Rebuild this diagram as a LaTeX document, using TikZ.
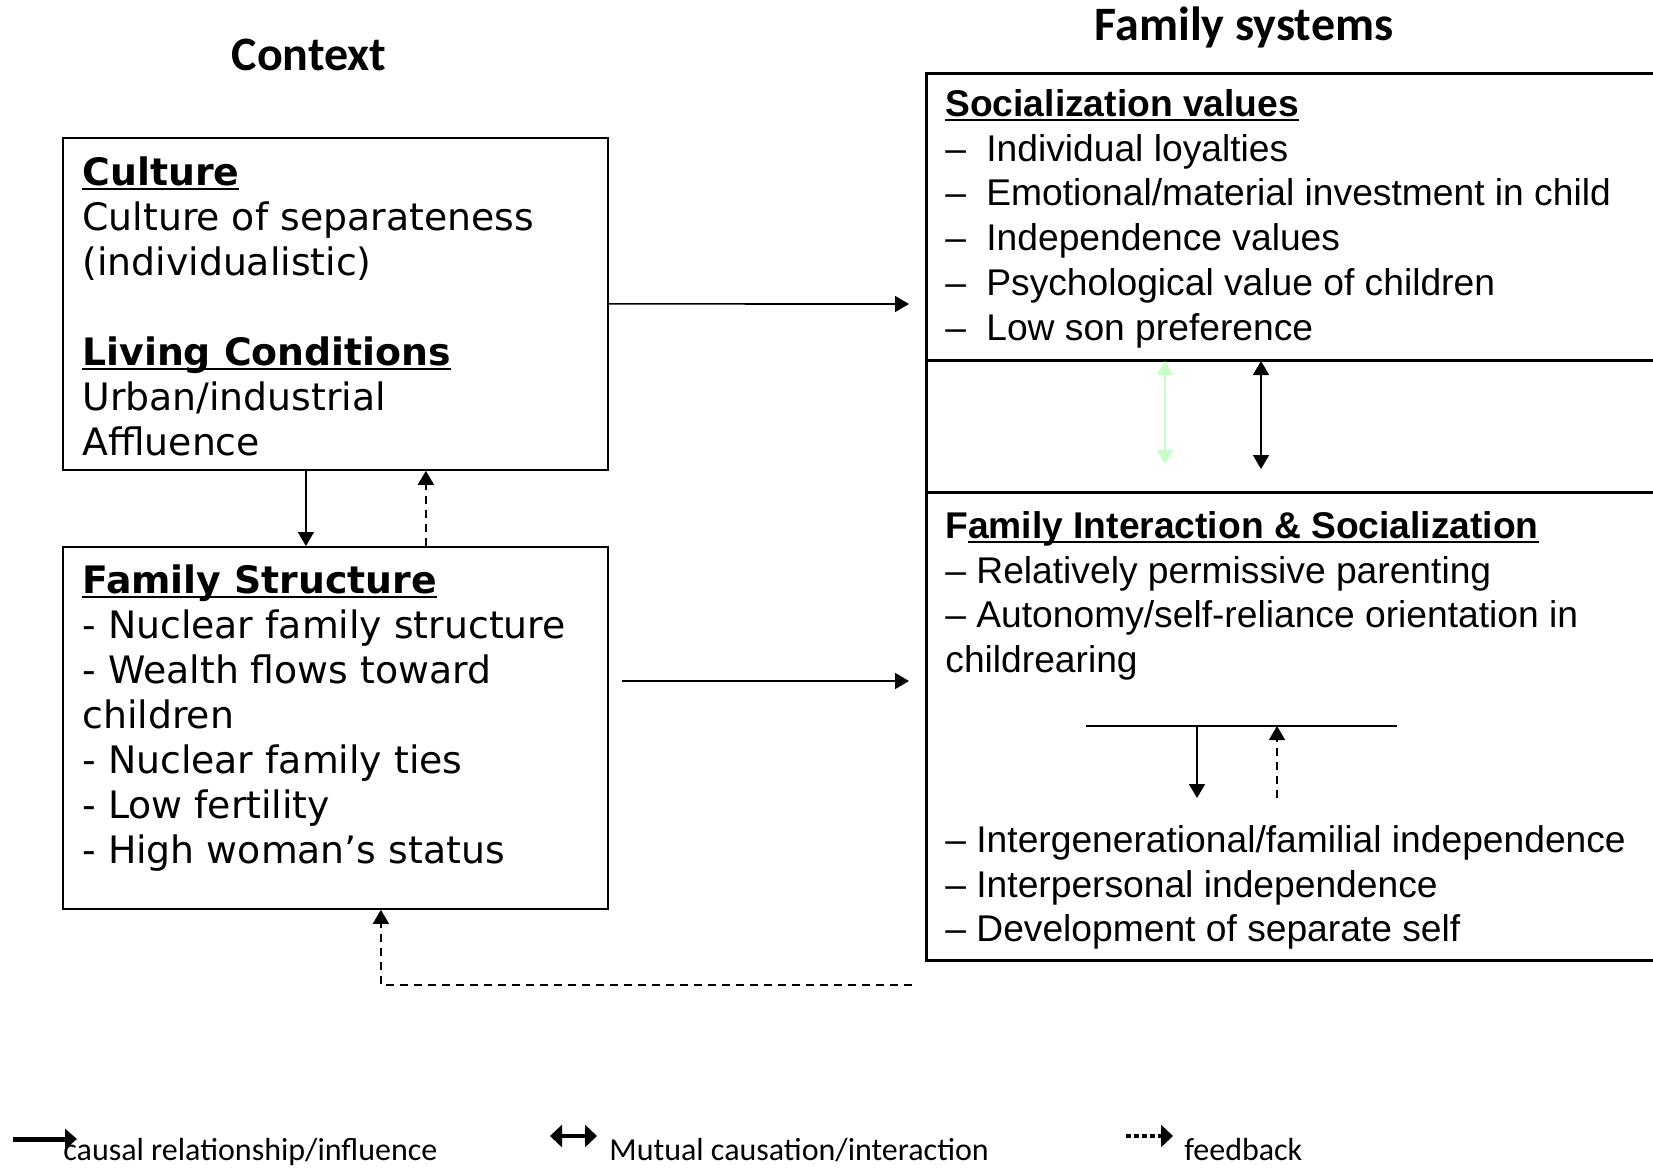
\documentclass[tikz,border=0pt]{standalone}
\usepackage{fontspec}
\newfontfamily\ctxfont{DejaVu Sans}
\newfontfamily\sysfont{Liberation Sans}
\newfontfamily\capfont{Carlito}
\usetikzlibrary{arrows.meta}
\definecolor{paleg}{RGB}{200,255,200}
\newlength\ulwd
\newcommand\ulhead[1]{\settowidth\ulwd{#1}\rlap{\rule[-2.5pt]{\ulwd}{1.3pt}}{#1}}
\newcommand\itm{\makebox[20.5pt][l]{–}}
\tikzstyle{ctxbox}=[draw,line width=0.9pt,minimum width=272.5pt,anchor=north west,inner sep=0]
\tikzstyle{sysbox}=[draw,line width=1.6pt,minimum width=387.5pt,anchor=north west,inner sep=0]
\tikzstyle{ctxtext}=[anchor=north west,inner sep=0,align=left,font=\ctxfont\fontsize{18.9}{22.5}\selectfont]
\tikzstyle{systext}=[anchor=north west,inner sep=0,align=left,font=\sysfont\fontsize{18.6}{22.4}\selectfont]
\tikzstyle{title}=[inner sep=0,font=\capfont\bfseries\fontsize{24}{28}\selectfont]
\tikzstyle{legtext}=[anchor=base west,inner sep=0,font=\capfont\fontsize{16}{19}\selectfont]
\tikzstyle{link}=[-{Triangle[width=8pt,length=7pt]},line width=0.8pt]
\tikzstyle{mutual}=[{Triangle[width=8pt,length=7pt]}-{Triangle[width=8pt,length=7pt]},line width=0.8pt]
\tikzstyle{feed}=[link,dash pattern=on 4pt off 3pt]

\begin{document}
\begin{tikzpicture}[x=0.5pt,y=-0.5pt]
  \useasboundingbox (0,0) rectangle (1653,1167);
  \fill[white] (0,0) rectangle (1653,1167);

  % titles
  \node[title] (ctxtitle) at (309,55) {Context};
  \node[title] (systitle) at (1244,27) {Family systems};

  % context boxes
  \node[ctxbox,minimum height=166pt] (culture) at (62,137) {};
  \node[ctxtext] (culturetxt) at (82,156) {\ulhead{\bfseries Culture}\\
    Culture of separateness\\
    (individualistic)\\
    ~\\
    \ulhead{\bfseries Living Conditions}\\
    Urban/industrial\\
    Affluence};
  \node[ctxbox,minimum height=181pt] (structure) at (62,546) {};
  \node[ctxtext] (structuretxt) at (82,564) {\ulhead{\bfseries Family Structure}\\
    - Nuclear family structure\\
    - Wealth flows toward\\
    children\\
    - Nuclear family ties\\
    - Low fertility\\
    - High woman’s status};

  % family systems boxes
  \node[sysbox,minimum height=143.5pt] (values) at (925,72) {};
  \node[sysbox,minimum height=66pt] (between) at (925,359) {};
  \node[sysbox,minimum height=234pt] (interaction) at (925,491) {};
  \node[systext] (valuestxt) at (945,89) {\ulhead{\bfseries Socialization values}\\
    \itm Individual loyalties\\
    \itm Emotional/material investment in child\\
    \itm Independence values\\
    \itm Psychological value of children\\
    \itm Low son preference};
  \node[systext] (interactiontxt) at (945,511) {{\bfseries F}\ulhead{\bfseries amily Interaction \& Socialization}\\
    – Relatively permissive parenting\\
    – Autonomy/self-reliance orientation in\\
    childrearing};
  \node[systext] (outcometxt) at (945,825) {– Intergenerational/familial independence\\
    – Interpersonal independence\\
    – Development of separate self};

  % connectors
  \coordinate (valin) at (909,304);
  \coordinate (fsout) at (622,681);
  \coordinate (intin) at (909,681);
  \coordinate (fbstart) at (912,985);
  \draw[link] (culture.east) -- (valin);
  \draw[link] (fsout) -- (intin);
  \draw[link] ([xshift=-14.75pt]culture.south) -- ([xshift=-14.75pt]structure.north);
  \draw[feed] ([xshift=45.25pt]structure.north) -- ([xshift=45.25pt]culture.south);
  \draw[feed] (fbstart) -| ([xshift=22.75pt]structure.south);

  % mutual arrows between values and interaction
  \coordinate (gtop) at (1165,361);
  \coordinate (gbot) at (1165,464);
  \coordinate (btop) at (1261,361);
  \coordinate (bbot) at (1261,469);
  \draw[mutual,paleg] (gtop) -- (gbot);
  \draw[mutual] (btop) -- (bbot);

  % inner split
  \coordinate (splitl) at (1086,726);
  \coordinate (splitr) at (1397,726);
  \coordinate (downend) at (1197,798);
  \coordinate (upstart) at (1277,798);
  \draw[line width=1.3pt] (splitl) -- (splitr);
  \draw[link] (downend |- splitl) -- (downend);
  \draw[feed] (upstart) -- (upstart |- splitl);

  % legend
  \coordinate (lg1a) at (13,1139);
  \coordinate (lg1b) at (77,1139);
  \coordinate (lg2a) at (550,1136);
  \coordinate (lg2b) at (597,1136);
  \coordinate (lg3a) at (1126,1136);
  \coordinate (lg3b) at (1173,1136);
  \draw[-{Triangle[width=10pt,length=6pt]},line width=2.5pt] (lg1a) -- (lg1b);
  \draw[{Triangle[width=11pt,length=6pt]}-{Triangle[width=11pt,length=6pt]},line width=1.8pt] (lg2a) -- (lg2b);
  \draw[-{Triangle[width=11pt,length=6pt]},line width=2pt,dash pattern=on 2.5pt off 1.5pt] (lg3a) -- (lg3b);
  \node[legtext] (leg1) at (63,1160) {causal relationship/influence};
  \node[legtext] (leg2) at (609,1160) {Mutual causation/interaction};
  \node[legtext] (leg3) at (1184,1160) {feedback};
\end{tikzpicture}
\end{document}
